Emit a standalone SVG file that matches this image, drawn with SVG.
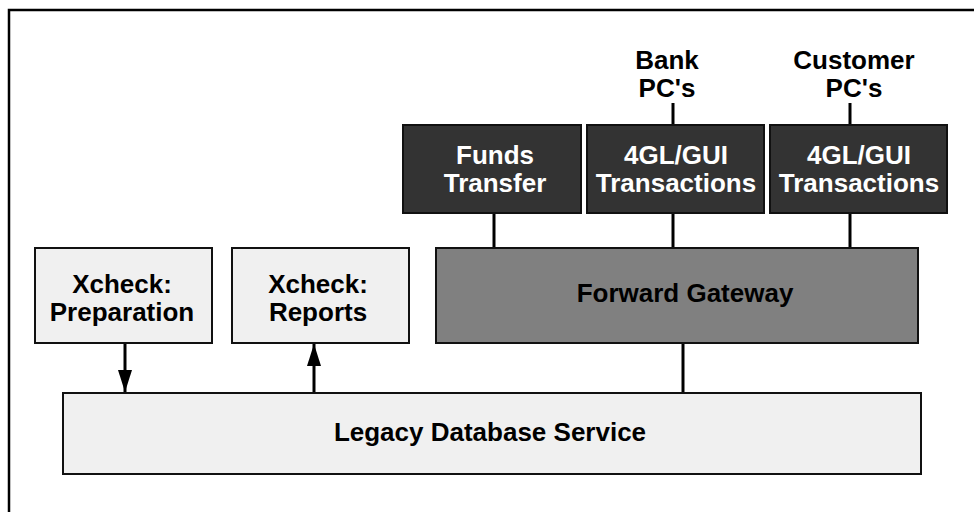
<svg xmlns="http://www.w3.org/2000/svg" width="974" height="512" viewBox="0 0 974 512">
  <style>
    .box { stroke: #111; stroke-width: 2; }
    .light { fill: #f0f0f0; }
    .dark { fill: #333333; }
    .mid { fill: #808080; }
    text { font-family: "Liberation Sans", Arial, Helvetica, sans-serif; font-weight: bold; font-size: 26px; text-anchor: middle; }
    .ink { fill: #000; }
    .inv { fill: #fff; }
    .wire { stroke: #000; stroke-width: 3; fill: none; }
  </style>
  <defs>
    <marker id="head" viewBox="0 0 22 14" refX="22" refY="7" markerWidth="22" markerHeight="14" markerUnits="userSpaceOnUse" orient="auto">
      <path d="M0,0 L22,7 L0,14 Z" fill="#000"/>
    </marker>
  </defs>

  <rect width="974" height="512" fill="#fff"/>

  <!-- frame -->
  <path d="M9,512 L9,10 L974,10" fill="none" stroke="#000" stroke-width="2.5"/>

  <!-- connectors -->
  <g id="connectors">
    <line class="wire" x1="673" y1="103" x2="673" y2="125"/>
    <line class="wire" x1="850" y1="103" x2="850" y2="125"/>
    <line class="wire" x1="494" y1="213" x2="494" y2="248"/>
    <line class="wire" x1="673" y1="213" x2="673" y2="248"/>
    <line class="wire" x1="850" y1="213" x2="850" y2="248"/>
    <line class="wire" x1="683" y1="343" x2="683" y2="393"/>
    <line class="wire" x1="125" y1="343" x2="125" y2="392" marker-end="url(#head)"/>
    <line class="wire" x1="314" y1="393" x2="314" y2="344" marker-end="url(#head)"/>
  </g>

  <!-- external endpoints -->
  <g id="bank-pcs">
    <text class="ink" x="667" y="69">Bank</text>
    <text class="ink" x="667" y="97">PC's</text>
  </g>
  <g id="customer-pcs">
    <text class="ink" x="854" y="69">Customer</text>
    <text class="ink" x="854" y="97">PC's</text>
  </g>

  <!-- front-end services -->
  <g id="funds-transfer">
    <rect class="box dark" x="403" y="125" width="178" height="88"/>
    <text class="inv" x="495" y="164">Funds</text>
    <text class="inv" x="495" y="192">Transfer</text>
  </g>
  <g id="gui-bank">
    <rect class="box dark" x="587" y="125" width="177" height="88"/>
    <text class="inv" x="676" y="164">4GL/GUI</text>
    <text class="inv" x="676" y="192">Transactions</text>
  </g>
  <g id="gui-customer">
    <rect class="box dark" x="770" y="125" width="177" height="88"/>
    <text class="inv" x="859" y="164">4GL/GUI</text>
    <text class="inv" x="859" y="192">Transactions</text>
  </g>

  <!-- middle tier -->
  <g id="xcheck-preparation">
    <rect class="box light" x="35" y="248" width="177" height="95"/>
    <text class="ink" x="122" y="293">Xcheck:</text>
    <text class="ink" x="122" y="321">Preparation</text>
  </g>
  <g id="xcheck-reports">
    <rect class="box light" x="232" y="248" width="177" height="95"/>
    <text class="ink" x="318" y="293">Xcheck:</text>
    <text class="ink" x="318" y="321">Reports</text>
  </g>
  <g id="forward-gateway">
    <rect class="box mid" x="436" y="248" width="482" height="95"/>
    <text class="ink" x="685" y="302">Forward Gateway</text>
  </g>

  <!-- back end -->
  <g id="legacy-db">
    <rect class="box light" x="63" y="393" width="858" height="81"/>
    <text class="ink" x="490" y="441">Legacy Database Service</text>
  </g>
</svg>
